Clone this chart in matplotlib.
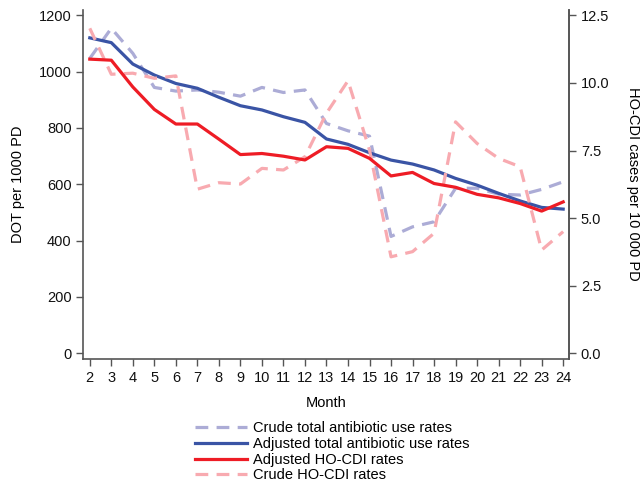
import numpy as np
import matplotlib
matplotlib.use('Agg')
import matplotlib.pyplot as plt
from matplotlib.ticker import FormatStrFormatter

plt.rcParams['font.family'] = ['Liberation Sans', 'DejaVu Sans']

# Datos
months = list(range(2, 25))
crude_abx = [1047, 1154, 1065, 944, 931, 935, 927, 913, 944, 926, 935, 816,
             790, 771, 415, 449, 467, 586, 586, 565, 562, 582, 609]
adj_abx = [1120, 1103, 1027, 988, 958, 941, 909, 879, 864, 840, 820, 761,
           742, 712, 686, 672, 651, 621, 597, 568, 541, 518, 512]
adj_cdi = [10.88, 10.84, 9.85, 9.02, 8.48, 8.48, 7.92, 7.35, 7.39, 7.29, 7.15, 7.64,
           7.58, 7.21, 6.56, 6.69, 6.28, 6.14, 5.88, 5.75, 5.54, 5.26, 5.60]
crude_cdi = [12.02, 10.32, 10.36, 10.17, 10.26, 6.07, 6.31, 6.26, 6.84, 6.78, 7.27, 8.88,
             10.08, 7.52, 3.57, 3.76, 4.44, 8.56, 7.76, 7.21, 6.90, 3.82, 4.50]

labels = ['Crude total antibiotic use rates', 'Adjusted total antibiotic use rates',
          'Adjusted HO-CDI rates', 'Crude HO-CDI rates']

fig = plt.figure(figsize=(6.44, 4.83), dpi=100)
ax = fig.add_axes([0.1294, 0.2567, 0.7541, 0.7236])
ax2 = ax.twinx()

lw = 2.3
l1, = ax.plot(months, crude_abx, color='#acacd6', lw=lw, dashes=(4, 2.6), label=labels[0])
l2, = ax.plot(months, adj_abx, color='#3a54a5', lw=lw, label=labels[1])
l4, = ax2.plot(months, crude_cdi, color='#f8aab0', lw=lw, dashes=(4, 2.6), label=labels[3])
l3, = ax2.plot(months, adj_cdi, color='#ee1c25', lw=lw, label=labels[2])

ax.set_xlim(1.7, 24.27)
ax.set_ylim(-20.2, 1220.6)
ax2.set_ylim(-20.2 / 96, 1220.6 / 96)
ax.set_xticks(months)
ax.set_yticks(range(0, 1201, 200))
ax2.set_yticks(np.arange(0, 12.6, 2.5))
ax2.yaxis.set_major_formatter(FormatStrFormatter('%.1f'))

spine_col = '#555555'
for a in (ax, ax2):
    a.spines['top'].set_visible(False)
    for s in ('left', 'right', 'bottom'):
        a.spines[s].set_color(spine_col)
        a.spines[s].set_linewidth(1.2)
    a.tick_params(direction='out', length=5, width=1, color=spine_col,
                  labelsize=10.5, labelcolor='#111111')
ax2.spines['left'].set_visible(False)
ax2.spines['bottom'].set_visible(False)

ax.set_xlabel('Month', fontsize=10.5, labelpad=8)
ax.set_ylabel('DOT per 1000 PD', fontsize=10.5, labelpad=10)
ax2.set_ylabel('HO-CDI cases per 10 000 PD', fontsize=10.5, rotation=270, labelpad=22)

fig.legend(handles=[l1, l2, l3, l4], labels=labels, loc='upper left',
           bbox_to_anchor=(0.3025, 0.128), frameon=False, fontsize=10.5,
           handlelength=3.6, handletextpad=0.4, labelspacing=0.12,
           borderaxespad=0, borderpad=0)

fig.savefig('out.png', dpi=100)
